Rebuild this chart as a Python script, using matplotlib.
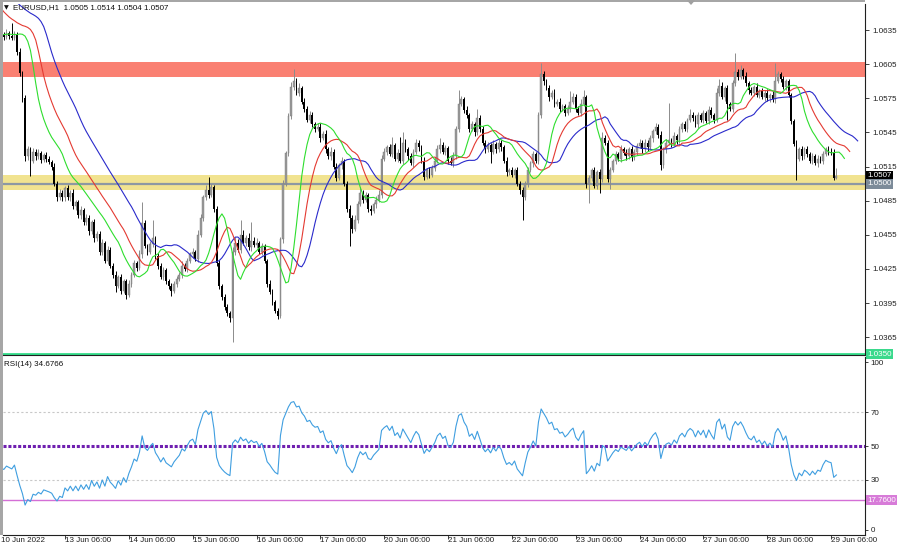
import numpy as np
import matplotlib
matplotlib.use("Agg")
import matplotlib.pyplot as plt
from matplotlib.patches import Rectangle, Polygon

plt.rcParams['font.family'] = ['Liberation Sans', 'DejaVu Sans']

# ---------------- data (prices in pips above 1.0000, e.g. 631 -> 1.0631) ----------------
# EURUSD H1 bars starting 10 Jun 2022 06:00
first_open = 633
close_pips = [
    631, 629, 632, 630, 628, 631, 616, 597, 575, 524, 530, 520, 528, 524, 527, 521, 525, 522, 519, 515, 500, 488, 492, 488,
    496, 488, 492, 480, 484, 472, 477, 466, 470, 458, 466, 452, 456, 440, 448, 432, 442, 428, 420, 410, 418, 406, 414, 402,
    412, 420, 430, 426, 438, 465, 445, 440, 447, 452, 436, 428, 418, 424, 414, 410, 406, 412, 416, 420, 428, 425, 432, 438,
    440, 434, 455, 470, 488, 494, 490, 497, 478, 430, 410, 400, 392, 386, 382, 440, 448, 442, 455, 448, 452, 444, 450, 446,
    448, 440, 445, 432, 412, 405, 396, 388, 384, 451, 500, 527, 559, 585, 590, 580, 584, 572, 566, 556, 560, 552, 548, 550,
    540, 544, 530, 524, 528, 515, 505, 516, 520, 500, 478, 470, 460, 468, 482, 492, 486, 490, 478, 476, 482, 486, 490, 522,
    528, 532, 526, 534, 522, 527, 520, 536, 530, 524, 518, 528, 536, 532, 520, 506, 512, 508, 514, 520, 530, 534, 528, 531,
    520, 518, 524, 548, 570, 574, 565, 560, 548, 552, 545, 558, 548, 536, 530, 534, 528, 535, 530, 536, 532, 520, 510, 512,
    508, 512, 500, 494, 488, 500, 512, 518, 526, 520, 560, 596, 590, 584, 576, 580, 570, 572, 566, 568, 562, 566, 572, 576,
    566, 562, 570, 576, 500, 505, 512, 498, 510, 504, 540, 536, 504, 512, 520, 526, 522, 530, 527, 524, 530, 523, 528, 533,
    536, 530, 536, 532, 540, 546, 550, 543, 516, 530, 536, 538, 535, 542, 538, 548, 552, 548, 556, 560, 558, 552, 560, 556,
    562, 555, 565, 560, 556, 580, 586, 576, 584, 570, 566, 588, 598, 594, 600, 595, 588, 582, 580, 585, 578, 581, 576, 580,
    575, 578, 574, 590, 596, 592, 585, 590, 578, 555, 535, 522, 530, 524, 530, 526, 520, 524, 518, 522, 520, 526, 530, 528,
    527, 505, 507,
]
upper_wick = [
    3, 2, 4, 2, 11, 3, 2, 3, 2, 3, 3, 2, 3, 2, 3, 2, 2, 3, 2, 2, 3, 2, 3, 2,
    2, 3, 2, 3, 2, 2, 3, 2, 3, 2, 2, 3, 2, 2, 3, 2, 3, 2, 2, 3, 2, 3, 2, 2,
    3, 2, 3, 2, 4, 19, 3, 2, 3, 16, 2, 3, 2, 3, 2, 2, 3, 2, 3, 2, 4, 2, 3, 2,
    3, 2, 4, 3, 2, 5, 12, 3, 2, 2, 3, 2, 3, 2, 2, 4, 5, 3, 13, 4, 3, 5, 16, 3,
    4, 2, 3, 2, 2, 3, 2, 2, 3, 2, 3, 2, 3, 4, 11, 3, 4, 2, 3, 2, 4, 3, 2, 3,
    3, 2, 3, 2, 4, 2, 3, 2, 3, 2, 2, 3, 2, 4, 3, 5, 2, 3, 2, 3, 2, 3, 4, 3,
    3, 2, 3, 7, 2, 3, 14, 9, 3, 2, 3, 2, 3, 2, 2, 3, 2, 3, 2, 3, 4, 6, 3, 3,
    2, 3, 4, 3, 12, 3, 2, 3, 2, 3, 2, 8, 2, 3, 2, 3, 2, 3, 2, 4, 2, 2, 3, 2,
    3, 2, 3, 2, 3, 2, 3, 2, 3, 2, 3, 10, 3, 2, 3, 2, 3, 2, 3, 2, 2, 3, 9, 4,
    3, 2, 4, 6, 2, 3, 2, 3, 2, 3, 5, 3, 2, 3, 2, 3, 2, 4, 2, 3, 2, 3, 2, 3,
    3, 2, 3, 2, 3, 2, 3, 2, 3, 2, 3, 33, 2, 3, 2, 3, 2, 3, 2, 6, 3, 2, 3, 2,
    3, 2, 3, 2, 2, 4, 6, 3, 2, 3, 2, 3, 17, 3, 4, 2, 3, 2, 3, 2, 3, 2, 3, 2,
    3, 2, 3, 16, 3, 2, 3, 2, 2, 2, 2, 3, 2, 3, 2, 3, 2, 3, 2, 3, 2, 3, 2, 3,
    3, 3, 7,
]
lower_wick = [
    2, 3, 2, 3, 2, 2, 3, 2, 3, 4, 3, 13, 2, 3, 2, 3, 2, 3, 2, 3, 2, 3, 2, 3,
    3, 2, 3, 2, 3, 2, 3, 2, 2, 3, 2, 3, 2, 3, 3, 2, 3, 2, 3, 5, 2, 3, 2, 3,
    2, 3, 2, 3, 2, 3, 2, 3, 2, 3, 2, 3, 2, 3, 2, 3, 5, 2, 3, 2, 3, 2, 3, 2,
    3, 2, 3, 2, 3, 2, 3, 2, 3, 2, 3, 2, 3, 2, 4, 21, 3, 2, 3, 2, 3, 2, 3, 2,
    3, 2, 3, 2, 3, 2, 3, 2, 3, 2, 3, 2, 3, 2, 3, 2, 3, 2, 3, 2, 3, 2, 3, 2,
    3, 2, 3, 2, 3, 2, 3, 2, 3, 2, 3, 25, 3, 2, 3, 2, 3, 2, 3, 4, 2, 3, 2, 3,
    2, 3, 2, 3, 2, 3, 2, 3, 2, 3, 2, 3, 2, 3, 2, 3, 2, 3, 2, 3, 2, 3, 2, 3,
    3, 2, 3, 2, 3, 2, 3, 2, 3, 2, 3, 2, 3, 2, 3, 2, 10, 2, 3, 2, 3, 2, 3, 2,
    2, 3, 2, 3, 20, 2, 3, 2, 3, 2, 3, 2, 3, 2, 3, 2, 3, 2, 3, 2, 3, 2, 3, 2,
    3, 2, 3, 2, 4, 17, 3, 2, 3, 12, 3, 2, 3, 9, 2, 3, 2, 3, 2, 3, 2, 3, 2, 3,
    2, 3, 2, 3, 2, 3, 2, 3, 4, 2, 3, 2, 3, 2, 3, 2, 3, 2, 3, 2, 3, 2, 3, 2,
    3, 2, 3, 2, 3, 2, 3, 2, 3, 14, 2, 3, 2, 3, 2, 3, 2, 3, 2, 3, 2, 3, 2, 3,
    2, 3, 2, 3, 2, 3, 2, 3, 2, 3, 2, 19, 2, 3, 2, 3, 2, 3, 2, 3, 2, 3, 2, 3,
    2, 2, 1,
]
# median prices of the 8 bars before the first visible one (Alligator warm-up)
pre_median = [634, 632, 633, 631, 630, 632, 631, 632]
jaw_seed, teeth_seed, lips_seed = 676.0, 654.0, 631.0
rsi_seed_gain, rsi_seed_loss = 3.0, 5.0

date_labels = ["10 Jun 2022", "13 Jun 06:00", "14 Jun 06:00", "15 Jun 06:00", "16 Jun 06:00",
               "17 Jun 06:00", "20 Jun 06:00", "21 Jun 06:00", "22 Jun 06:00", "23 Jun 06:00",
               "24 Jun 06:00", "27 Jun 06:00", "28 Jun 06:00", "29 Jun 06:00"]
date_label_bars = [0, 24, 48, 72, 96, 120, 144, 168, 192, 216, 240, 264, 288, 312]
price_ticks = [1.0635, 1.0605, 1.0575, 1.0545, 1.0515, 1.0485, 1.0455, 1.0425, 1.0395, 1.0365]
rsi_ticks = [100, 70, 50, 30, 0]
resistance_zone = (1.0594, 1.0607)
support_zone = (1.0494, 1.0508)
support_line = 1.0500
green_level = 1.0350
rsi_level = 17.76
last_price = 1.0507
header_text = "EURUSD,H1  1.0505 1.0514 1.0504 1.0507"
rsi_text = "RSI(14) 34.6766"

# ---------------- derived series ----------------
PIP = 0.0001
c = np.array(close_pips, dtype=float)
o = np.concatenate([[first_open], c[:-1]])
hi = np.maximum(o, c) + np.array(upper_wick)
lo = np.minimum(o, c) - np.array(lower_wick)
N = len(c)
xs = np.arange(N)
to_price = lambda p: 1.0 + np.asarray(p) * PIP

med = (hi + lo) / 2.0
full_med = np.concatenate([pre_median, med])  # bars -8 .. N-1


def smma(seed, values, n):
    out = [seed]
    s = seed
    for v in values:
        s = (s * (n - 1) + v) / n
        out.append(s)
    return np.array(out)

jaw = smma(jaw_seed, full_med[1:], 13)      # bars -8..N-1, shifted 8 -> display 0..N+7
teeth = smma(teeth_seed, full_med[4:], 8)   # bars -5..N-1, shifted 5 -> display 0..N+4
lips = smma(lips_seed, full_med[6:], 5)     # bars -3..N-1, shifted 3 -> display 0..N+2

g, l_ = rsi_seed_gain, rsi_seed_loss
prev = first_open
rsi = []
for v in c:
    d = v - prev
    prev = v
    g = (g * 13 + max(d, 0)) / 14
    l_ = (l_ * 13 + max(-d, 0)) / 14
    rsi.append(100 - 100 / (1 + g / l_))
rsi = np.array(rsi)

# ---------------- layout ----------------
W, H = 900, 548
fig = plt.figure(figsize=(9, 5.48), dpi=100)
fig.patch.set_facecolor('white')


def px_rect(x0, y0, x1, y1):
    return [x0 / W, 1 - y1 / H, (x1 - x0) / W, (y1 - y0) / H]

ax = fig.add_axes(px_rect(3, 4, 865, 355))
ax2 = fig.add_axes(px_rect(3, 357, 865, 535))

BAR0_PX, BAR_PX = 1.16, 2.66
xl = ((3 - BAR0_PX) / BAR_PX, (865 - BAR0_PX) / BAR_PX)
for a in (ax, ax2):
    a.set_xlim(*xl)
    a.set_facecolor('white')
    a.spines['left'].set_visible(False)
    a.spines['top'].set_visible(False)
    a.spines['right'].set_color('#202020')
    a.spines['right'].set_linewidth(0.8)
    a.spines['bottom'].set_color('#202020')
    a.spines['bottom'].set_linewidth(0.8)

ax.set_ylim(1.03494, 1.065785)
ax2.set_ylim(-2.98, 103.0)

FS = 5.8
# ---------------- main panel ----------------
ax.axhspan(*resistance_zone, color='#fa8072', lw=0, zorder=0.5)
ax.axhspan(*support_zone, color='#f1e390', lw=0, zorder=0.5)
ax.axhline(support_line, color='#8d98a3', lw=1.6, zorder=0.8)
ax.axhline(green_level, color='#34dd8a', lw=2.0, zorder=0.8, clip_on=False)

bull = c >= o
wick_col = np.where(bull, '#8c8c8c', '#000000')
ax.vlines(xs, to_price(lo), to_price(hi), colors=wick_col, lw=0.7, zorder=2)
body_h = np.maximum(np.abs(c - o), 0.6) * PIP
body_b = to_price(np.minimum(o, c))
ax.bar(xs[bull], body_h[bull], bottom=body_b[bull], width=0.68, color='#9a9a9a',
       edgecolor='#7a7a7a', linewidth=0.3, zorder=2.1)
ax.bar(xs[~bull], body_h[~bull], bottom=body_b[~bull], width=0.68, color='#000000',
       linewidth=0, zorder=2.1)

ax.plot(np.arange(len(jaw)), to_price(jaw), color='#2a2acb', lw=0.8, zorder=3)
ax.plot(np.arange(len(teeth)), to_price(teeth), color='#e43a32', lw=0.8, zorder=3)
ax.plot(np.arange(len(lips)), to_price(lips), color='#2ede2e', lw=0.8, zorder=3)

ax.set_xticks([])
ax.yaxis.tick_right()
ax.set_yticks(price_ticks)
ax.set_yticklabels([f"{t:.4f}" for t in price_ticks])
ax.tick_params(axis='y', direction='out', length=3, width=0.6, color='#202020',
               labelsize=FS, pad=2, labelcolor='#202020')

ytr = ax.get_yaxis_transform()
for val, fc in ((last_price, '#000000'), (support_line, '#7c8b99'), (green_level, '#3ad98c')):
    ax.text(1.0025, val, f"{val:.4f}", transform=ytr, ha='left', va='center', fontsize=FS,
            color='white', clip_on=False, zorder=5,
            bbox=dict(boxstyle='square,pad=0.18', fc=fc, ec='none'))

fig.text(13 / W, 1 - 7.5 / H, header_text, fontsize=FS, ha='left', va='center', color='#101010')
fig.text(4 / W, 1 - 7.5 / H, '\u25BC', fontsize=4.5, ha='left', va='center', color='#101010',
         family=['DejaVu Sans'])

# ---------------- RSI panel ----------------
ax2.axhline(70, color='#c8c8c8', lw=0.8, ls=(0, (2, 2)), zorder=1)
ax2.axhline(30, color='#c8c8c8', lw=0.8, ls=(0, (2, 2)), zorder=1)
ax2.axhline(50, color='#6f1fb0', lw=2.2, ls=(0, (1, 0.6)), zorder=1.2)
ax2.axhline(rsi_level, color='#d46fd6', lw=1.0, zorder=1.2)
ax2.plot(xs, rsi, color='#3f9ee0', lw=0.8, zorder=3)

ax2.yaxis.tick_right()
ax2.set_yticks(rsi_ticks)
ax2.set_yticklabels([str(t) for t in rsi_ticks])
ax2.tick_params(axis='y', direction='out', length=2, width=0.6, color='#202020',
                labelsize=FS, pad=2, labelcolor='#202020')
ax2.text(1.0025, rsi_level, f"{rsi_level:.4f}", transform=ax2.get_yaxis_transform(), ha='left',
         va='center', fontsize=FS, color='white', clip_on=False,
         bbox=dict(boxstyle='square,pad=0.18', fc='#d77bd8', ec='none'))
ax2.text(1 / 862, 1 - 7 / 178, rsi_text, transform=ax2.transAxes, fontsize=FS, ha='left',
         va='center', color='#101010')

ax2.set_xticks(date_label_bars[1:])
ax2.set_xticklabels([])
ax2.tick_params(axis='x', direction='out', length=3, width=0.6, color='#202020')
xtr = ax2.get_xaxis_transform()
for b, lab in zip(date_label_bars, date_labels):
    ax2.text(b, -6 / 178, lab, transform=xtr, ha='left', va='center', fontsize=FS,
             color='#202020', clip_on=False)

# ---------------- window frame ----------------
fig.patches.append(Rectangle((0, 1 - 535 / H), 2.5 / W, 535 / H, transform=fig.transFigure,
                             color='#a6a6a6', lw=0, zorder=10))
fig.patches.append(Rectangle((0, 1 - 2 / H), 865 / W, 2 / H, transform=fig.transFigure,
                             color='#a6a6a6', lw=0, zorder=10))
fig.patches.append(Polygon([(687 / W, 1 - 0.5 / H), (695 / W, 1 - 0.5 / H), (691 / W, 1 - 5 / H)],
                           closed=True, transform=fig.transFigure, color='#a0a0a0', lw=0, zorder=11))

fig.savefig('out.png', dpi=100, facecolor='white')
